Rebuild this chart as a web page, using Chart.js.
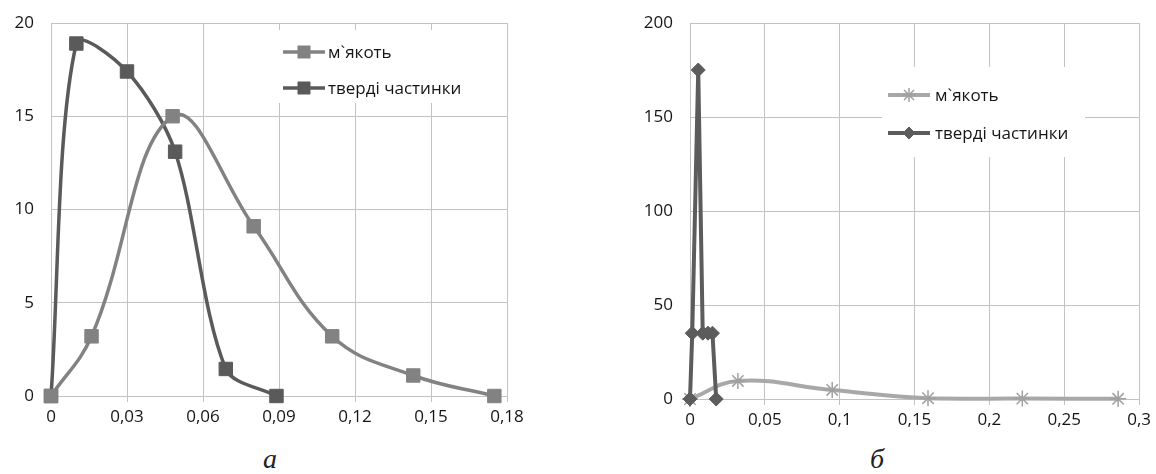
<!DOCTYPE html>
<html>
<head>
<meta charset="utf-8">
<script src="https://cdn.jsdelivr.net/npm/chart.js@4.4.1/dist/chart.umd.min.js"></script>
<style>
  html, body { margin: 0; padding: 0; background: #fff; }
  body { width: 1156px; height: 474px; position: relative; overflow: hidden; }
  canvas { position: absolute; top: 0; }
  #chartA { left: 0; }
  #chartB { left: 600px; }
  .caption {
    position: absolute; top: 445px; width: 40px; margin-left: -20px; text-align: center;
    font: italic 28px/28px "Liberation Serif", serif; color: #222;
  }
</style>
</head>
<body>
<canvas id="chartA" width="540" height="440"></canvas>
<canvas id="chartB" width="556" height="440"></canvas>
<div class="caption" style="left:270px">а</div>
<div class="caption" style="left:877px">б</div>
<script>
// chart а
const pulpA_x = [0, 0.016, 0.048, 0.08, 0.111, 0.143, 0.175];
const pulpA_y = [0, 3.2, 15, 9.1, 3.2, 1.1, 0];
const solidsA_x = [0, 0.01, 0.03, 0.049, 0.069, 0.089];
const solidsA_y = [0, 18.9, 17.4, 13.1, 1.45, 0];
const xTicksA = [0, 0.03, 0.06, 0.09, 0.12, 0.15, 0.18];
const yTicksA = [0, 5, 10, 15, 20];

// chart б
const pulpB_x = [0, 0.032, 0.095, 0.159, 0.222, 0.286];
const pulpB_y = [0, 9.6, 4.8, 0.4, 0.2, 0.1];
const solidsB_x = [0, 0.0015, 0.0055, 0.0085, 0.012, 0.015, 0.0175];
const solidsB_y = [0, 35, 175, 35, 35, 35, 0];
const xTicksB = [0, 0.05, 0.1, 0.15, 0.2, 0.25, 0.3];
const yTicksB = [0, 50, 100, 150, 200];

const seriesNames = ['м`якоть', 'тверді частинки'];

const gridColor = '#c2c2c2';
const textColor = '#151515';
Chart.defaults.font.family = '"Open Sans", sans-serif';
Chart.defaults.font.size = 17;

const toPoints = (xs, ys) => xs.map((x, i) => ({ x, y: ys[i] }));
const fmt = v => String(Math.round(v * 1000) / 1000).replace('.', ',');

// legend drawn inside the plot on a white box
const insideLegend = {
  id: 'insideLegend',
  beforeDatasetsDraw(chart, args, opts) {
    const { ctx, chartArea: a } = chart;
    ctx.save();
    ctx.fillStyle = '#fff';
    ctx.fillRect(a.left + opts.box[0], a.top + opts.box[1], opts.box[2], opts.box[3]);
    ctx.font = '17px "Open Sans", sans-serif';
    ctx.textBaseline = 'middle';
    chart.data.datasets.forEach((ds, i) => {
      const y = a.top + opts.rows[i];
      const x1 = a.left + opts.line[0], x2 = a.left + opts.line[1];
      ctx.strokeStyle = ds.borderColor;
      ctx.lineWidth = ds.borderWidth;
      ctx.beginPath(); ctx.moveTo(x1, y); ctx.lineTo(x2, y); ctx.stroke();
      ctx.fillStyle = ds.pointBackgroundColor;
      ctx.strokeStyle = ds.pointBorderColor;
      ctx.lineWidth = ds.pointBorderWidth;
      Chart.helpers.drawPoint(ctx, {
        pointStyle: ds.pointStyle, radius: opts.radius[i],
        borderWidth: ds.pointBorderWidth, rotation: 0
      }, (x1 + x2) / 2, y);
      ctx.fillStyle = textColor;
      ctx.fillText(ds.label, a.left + opts.text, y + 1);
    });
    ctx.restore();
  }
};

function makeScales(xTicks, yTicks, yWidth) {
  return {
    x: {
      type: 'linear',
      min: xTicks[0], max: xTicks[xTicks.length - 1],
      afterBuildTicks: s => { s.ticks = xTicks.map(v => ({ value: v })); },
      afterFit: s => { s.height = 30; },
      ticks: { callback: v => fmt(v), color: textColor, padding: 5, maxRotation: 0, autoSkip: false },
      grid: { color: gridColor, tickLength: 6 },
      border: { color: gridColor }
    },
    y: {
      type: 'linear',
      min: yTicks[0], max: yTicks[yTicks.length - 1],
      afterBuildTicks: s => { s.ticks = yTicks.map(v => ({ value: v })); },
      afterFit: s => { s.width = yWidth; },
      // invisible tick marks keep the label gap without adding top padding
      ticks: { color: textColor, padding: 5 },
      grid: { color: gridColor, tickLength: 12, tickColor: 'rgba(0,0,0,0)' },
      border: { color: gridColor }
    }
  };
}

const common = {
  responsive: false,
  animation: false,
  plugins: { legend: { display: false }, tooltip: { enabled: false } }
};

new Chart(document.getElementById('chartA'), {
  type: 'line',
  data: {
    datasets: [
      {
        label: seriesNames[0],
        data: toPoints(pulpA_x, pulpA_y),
        borderColor: '#828282', borderWidth: 3.5,
        pointStyle: 'rect', pointRadius: 9.5, pointBorderWidth: 1,
        pointBackgroundColor: '#828282', pointBorderColor: '#828282',
        tension: 0.4, fill: false, clip: false
      },
      {
        label: seriesNames[1],
        data: toPoints(solidsA_x, solidsA_y),
        borderColor: '#5a5a5a', borderWidth: 3.5,
        pointStyle: 'rect', pointRadius: 9.5, pointBorderWidth: 1,
        pointBackgroundColor: '#5a5a5a', pointBorderColor: '#5a5a5a',
        tension: 0.3, fill: false, clip: false
      }
    ]
  },
  options: {
    ...common,
    layout: { padding: { left: 0, top: 23, right: 33, bottom: 14 } },
    scales: makeScales(xTicksA, yTicksA, 51),
    plugins: {
      ...common.plugins,
      insideLegend: { box: [226, 7, 196, 73], line: [232, 274], text: 277, rows: [29, 65], radius: [8.5, 8.5] }
    }
  },
  plugins: [insideLegend]
});

new Chart(document.getElementById('chartB'), {
  type: 'line',
  data: {
    datasets: [
      {
        label: seriesNames[0],
        data: toPoints(pulpB_x, pulpB_y),
        borderColor: '#a8a8a8', borderWidth: 4,
        pointStyle: 'star', pointRadius: 8, pointBorderWidth: 1.5,
        pointBackgroundColor: '#a0a0a0', pointBorderColor: '#a0a0a0',
        tension: 0.4, fill: false, clip: false
      },
      {
        label: seriesNames[1],
        data: toPoints(solidsB_x, solidsB_y),
        borderColor: '#5c5c5c', borderWidth: 4,
        pointStyle: 'rectRot', pointRadius: 7, pointBorderWidth: 1,
        pointBackgroundColor: '#5c5c5c', pointBorderColor: '#5c5c5c',
        tension: 0, fill: false, order: -1, clip: false
      }
    ]
  },
  options: {
    ...common,
    layout: { padding: { left: 0, top: 23, right: 16, bottom: 11 } },
    scales: makeScales(xTicksB, yTicksB, 90),
    plugins: {
      ...common.plugins,
      insideLegend: { box: [192, 44, 203, 90], line: [198, 240], text: 245, rows: [72, 110], radius: [7, 6] }
    }
  },
  plugins: [insideLegend]
});
</script>
</body>
</html>
